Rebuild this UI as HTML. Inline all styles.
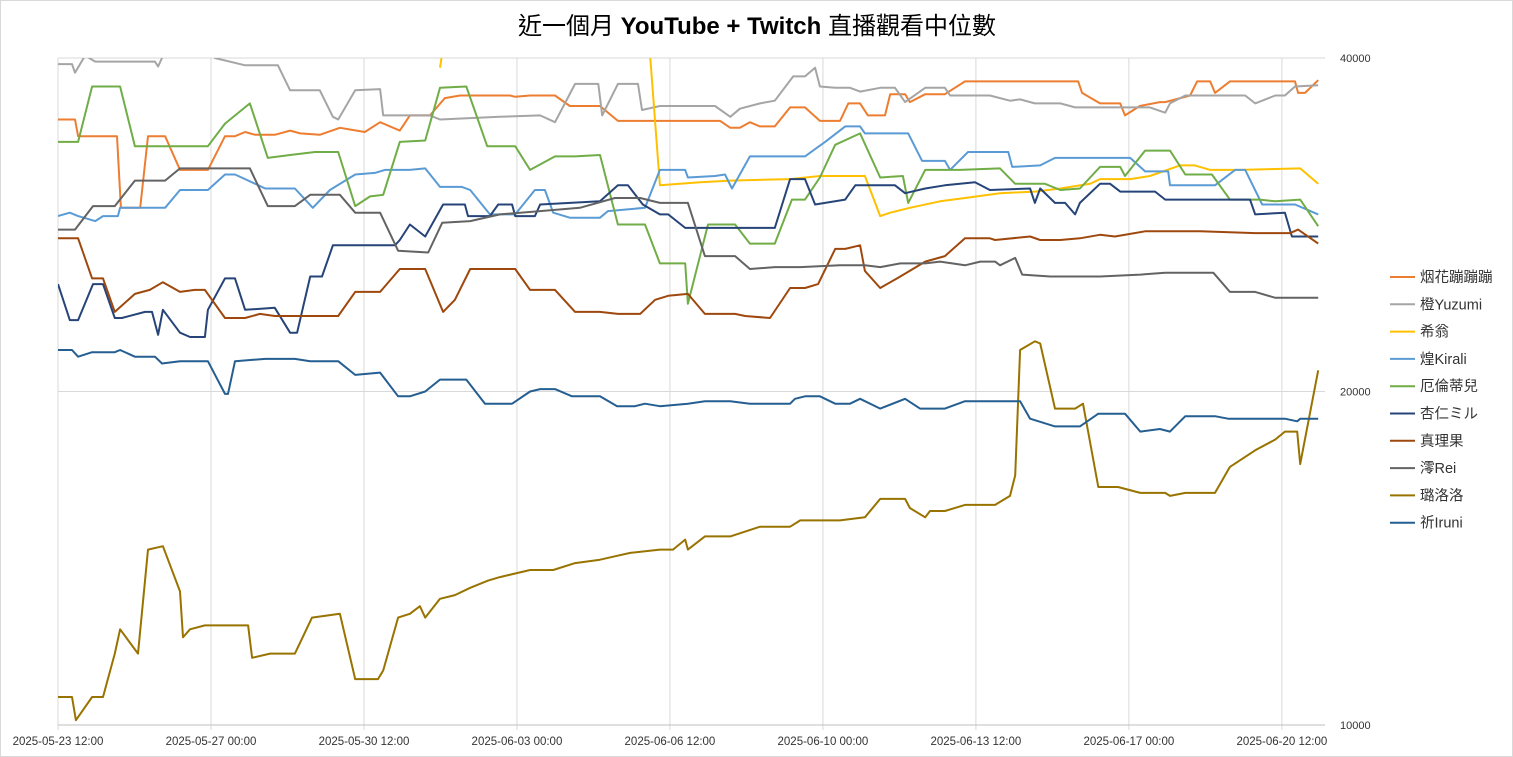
<!DOCTYPE html>
<html><head><meta charset="utf-8">
<style>
html,body{margin:0;padding:0;background:#fff;}
#wrap{position:relative;width:1513px;height:757px;overflow:hidden;font-family:"Liberation Sans","Noto Sans CJK TC",sans-serif;}
svg text{font-family:"Liberation Sans","Noto Sans CJK TC",sans-serif;}
</style></head>
<body>
<div id="wrap">
<svg id="chart" width="1513" height="757">
<rect x="0.5" y="0.5" width="1512" height="756" fill="#fff" stroke="#d9d9d9"/>
<text x="757" y="34" text-anchor="middle" font-size="24" fill="#000">近一個月 <tspan font-weight="bold">YouTube + Twitch</tspan> 直播觀看中位數</text>
<defs><clipPath id="plotclip"><rect x="58" y="58" width="1267" height="667"/></clipPath></defs>
<g id="grid"></g>
<g id="series" clip-path="url(#plotclip)"></g>
<g id="axes"></g>
<g id="legend"></g>
</svg>
</div>
<script>
const xTickLabels = ["2025-05-23 12:00","2025-05-27 00:00","2025-05-30 12:00","2025-06-03 00:00","2025-06-06 12:00","2025-06-10 00:00","2025-06-13 12:00","2025-06-17 00:00","2025-06-20 12:00"];
const xTickDays = [0,3.5,7,10.5,14,17.5,21,24.5,28];
const yTicks = [10000,20000,40000];
const seriesNames = ["烟花蹦蹦蹦","橙Yuzumi","希翁","煌Kirali","厄倫蒂兒","杏仁ミル","真理果","澪Rei","璐洛洛","祈Iruni"];
const seriesColors = ["#ED7D31","#A5A5A5","#FFC000","#5B9BD5","#70AD47","#264478","#9E480E","#636363","#997300","#255E91"];
// [day offset from 2025-05-23 12:00, median viewers]
const dataHanabi = [[0,35200],[0.39,35200],[0.46,34000],[1.35,34000],[1.44,29300],[1.88,29300],[2.06,34000],[2.45,34000],[2.79,31700],[3.43,31700],[3.82,34000],[4.05,34000],[4.28,34300],[4.51,34100],[4.96,34100],[5.31,34400],[5.54,34200],[5.99,34100],[6.45,34600],[7.02,34300],[7.37,35000],[7.82,34400],[8.05,35500],[8.51,35500],[8.85,36800],[9.2,37000],[9.66,37000],[10.34,37000],[10.46,36900],[10.8,37000],[11.37,37000],[11.71,36200],[12.4,36200],[12.81,35100],[15.15,35100],[15.38,34600],[15.6,34600],[15.83,35000],[16.06,34700],[16.4,34700],[16.75,36100],[17.09,36100],[17.43,35100],[17.89,35100],[18.08,36400],[18.35,36400],[18.53,35500],[18.92,35500],[19.04,37100],[19.38,37100],[19.49,36500],[19.84,37100],[20.29,37100],[20.75,38100],[23.34,38100],[23.43,37200],[23.84,36400],[24.3,36400],[24.41,35500],[24.75,36200],[25.21,36500],[25.33,36500],[25.9,37000],[26.06,38100],[26.36,38100],[26.47,37200],[26.81,38100],[28.3,38100],[28.37,37200],[28.53,37200],[28.83,38200]];
const dataYuzumi = [[0,39500],[0.32,39500],[0.39,38800],[0.62,40200],[0.85,39700],[2.22,39700],[2.29,39300],[2.38,40000],[2.56,43000],[3.43,43000],[3.59,40000],[4.28,39400],[5.03,39400],[5.31,37400],[5.99,37400],[6.29,35400],[6.41,35200],[6.8,37400],[7.37,37500],[7.44,35500],[8.51,35500],[8.74,35200],[10.11,35400],[11.03,35500],[11.37,35000],[11.83,37900],[12.36,37900],[12.45,35500],[12.81,37900],[13.27,37900],[13.36,35900],[13.77,36200],[15.03,36200],[15.38,35400],[15.6,36000],[16.06,36400],[16.4,36600],[16.82,38500],[17.09,38500],[17.32,39200],[17.43,37700],[17.78,37600],[18.12,37600],[18.35,37300],[18.81,37600],[19.15,37600],[19.38,36500],[19.84,37600],[20.29,37600],[20.41,37000],[21.32,37000],[21.78,36600],[22.01,36700],[22.35,36400],[22.93,36400],[23.27,36100],[24.98,36100],[25.33,35700],[25.44,36400],[25.79,37000],[27.16,37000],[27.39,36400],[27.85,37000],[28.07,37000],[28.3,37700],[28.83,37800]];
const dataXiweng = [[8.74,39200],[8.97,45000],[13.43,45000],[13.55,40000],[13.77,30700],[14.69,30900],[15.38,31000],[16.75,31100],[17.43,31300],[18.46,31300],[18.81,28800],[19.04,29000],[19.49,29300],[20.18,29700],[20.75,29900],[21.55,30200],[22.35,30300],[22.93,30500],[23.61,30800],[23.84,31100],[24.53,31100],[24.98,31300],[25.67,32000],[26.01,32000],[26.36,31700],[27.04,31700],[28.42,31800],[28.83,30800]];
const dataKirali = [[0,28800],[0.27,29000],[0.46,28800],[0.85,28500],[1.03,28800],[1.37,28800],[1.42,29300],[2.45,29300],[2.79,30400],[3.43,30400],[3.82,31400],[4.05,31400],[4.28,31100],[4.74,30500],[5.42,30500],[5.83,29300],[6.22,30400],[6.8,31400],[7.25,31500],[7.48,31700],[8.05,31700],[8.4,31800],[8.74,30600],[9.24,30600],[9.43,30400],[9.88,28900],[10.46,28900],[10.91,30400],[11.14,30400],[11.33,29000],[11.71,28700],[12.4,28700],[12.58,29100],[13.43,29300],[13.77,31700],[14.35,31700],[14.41,31200],[15.03,31300],[15.26,31400],[15.42,30500],[15.83,32600],[16.29,32600],[17.09,32600],[17.32,33100],[17.55,33600],[18.01,34700],[18.35,34700],[18.46,34200],[19.45,34200],[19.77,32300],[20.29,32300],[20.41,31700],[20.82,32900],[21.74,32900],[21.83,31900],[22.47,32000],[22.81,32500],[24.53,32500],[24.87,31600],[25.4,31600],[25.44,30700],[26.47,30700],[26.93,31700],[27.16,31700],[27.55,29500],[28.3,29500],[28.83,28900]];
const dataEllen = [[0,33600],[0.46,33600],[0.78,37700],[1.42,37700],[1.76,33300],[3.43,33300],[3.82,34900],[4.39,36400],[4.8,32500],[5.31,32700],[5.88,32900],[6.41,32900],[6.8,29400],[7.14,30000],[7.44,30100],[7.82,33600],[8.4,33700],[8.74,37600],[9.34,37700],[9.82,33300],[10.46,33300],[10.8,31700],[11.37,32600],[11.83,32600],[12.4,32700],[12.81,28300],[13.43,28300],[13.77,26100],[14.35,26100],[14.41,24000],[14.87,28300],[15.49,28300],[15.83,27200],[16.4,27200],[16.79,29800],[17.09,29800],[17.43,31200],[17.78,33400],[18.35,34200],[18.81,31200],[19.33,31300],[19.45,29600],[19.84,31700],[20.64,31700],[21.55,31800],[21.9,30800],[22.58,30800],[22.93,30400],[23.38,30500],[23.84,31900],[24.3,31900],[24.41,31300],[24.87,33000],[25.44,33000],[25.79,31400],[26.4,31400],[26.81,29800],[27.5,29800],[27.85,29700],[28.42,29800],[28.83,28200]];
const dataAnnin = [[0,25000],[0.27,23200],[0.46,23200],[0.8,25000],[1.03,25000],[1.3,23300],[1.46,23300],[1.99,23600],[2.15,23600],[2.29,22500],[2.4,23700],[2.79,22600],[3.02,22400],[3.36,22400],[3.43,23700],[3.82,25300],[4.05,25300],[4.28,23700],[4.96,23800],[5.31,22600],[5.47,22600],[5.77,25400],[6.04,25400],[6.29,27100],[7.71,27100],[7.82,27400],[8.05,28300],[8.4,27600],[8.81,29500],[9.31,29500],[9.38,28800],[9.88,28800],[10.07,29500],[10.39,29500],[10.46,28800],[10.91,28800],[11.03,29500],[12.4,29700],[12.81,30700],[13.04,30700],[13.38,29500],[13.77,28900],[13.96,28900],[14.35,28100],[16.4,28100],[16.75,31100],[17.09,31100],[17.32,29500],[18.01,29800],[18.24,30700],[19.15,30700],[19.38,30200],[19.84,30500],[20.29,30700],[20.98,30900],[21.32,30400],[22.24,30500],[22.35,29600],[22.47,30500],[22.81,29600],[23.04,29600],[23.27,28900],[23.38,29600],[23.84,30800],[24.07,30800],[24.3,30300],[25.1,30300],[25.33,29800],[27.27,29800],[27.39,28900],[28.07,29000],[28.23,27600],[28.83,27600]];
const dataMarika = [[0,27500],[0.46,27500],[0.78,25300],[1.03,25300],[1.3,23600],[1.76,24500],[2.1,24700],[2.4,25100],[2.79,24600],[3.13,24700],[3.36,24700],[3.82,23300],[4.28,23300],[4.62,23500],[4.96,23400],[6.41,23400],[6.8,24600],[7.37,24600],[7.82,25800],[8.4,25800],[8.81,23600],[9.08,24200],[9.43,25800],[10.46,25800],[10.8,24700],[11.37,24700],[11.83,23600],[12.4,23600],[12.81,23500],[13.32,23500],[13.66,24200],[13.96,24400],[14.41,24500],[14.8,23500],[15.49,23500],[15.72,23400],[16.29,23300],[16.75,24800],[17.09,24800],[17.39,25000],[17.78,26900],[18.01,26900],[18.35,27100],[18.46,25700],[18.81,24800],[19.27,25400],[19.84,26200],[20.29,26500],[20.75,27500],[21.32,27500],[21.44,27400],[22.24,27600],[22.47,27400],[22.93,27400],[23.38,27500],[23.84,27700],[24.18,27600],[24.87,27900],[26.13,27900],[27.39,27800],[28.19,27800],[28.37,28000],[28.83,27200]];
const dataRei = [[0,28000],[0.39,28000],[0.8,29400],[1.3,29400],[1.76,31000],[2.45,31000],[2.79,31800],[4.39,31800],[4.8,29400],[5.42,29400],[5.77,30100],[6.45,30100],[6.8,29000],[7.37,29000],[7.78,26800],[8.47,26700],[8.79,28400],[9.43,28500],[10.11,28900],[11.03,29100],[11.94,29300],[12.74,29900],[13.32,29900],[13.77,29600],[14.41,29600],[14.8,26500],[15.49,26500],[15.83,25800],[16.4,25900],[16.98,25900],[17.89,26000],[18.46,26000],[18.81,25900],[19.27,26100],[19.84,26100],[20.18,26200],[20.75,26000],[21.1,26200],[21.44,26200],[21.55,26000],[21.9,26400],[22.06,25500],[22.7,25400],[23.84,25400],[24.76,25500],[25.33,25600],[26.43,25600],[26.81,24600],[27.39,24600],[27.85,24300],[28.83,24300]];
const dataLuluolo = [[0,10600],[0.32,10600],[0.41,10100],[0.78,10600],[1.03,10600],[1.3,11600],[1.42,12200],[1.83,11600],[2.06,14400],[2.4,14500],[2.79,13200],[2.86,12000],[3.02,12200],[3.36,12300],[3.94,12300],[4.35,12300],[4.44,11500],[4.85,11600],[5.42,11600],[5.81,12500],[6.45,12600],[6.8,11000],[7.32,11000],[7.44,11200],[7.78,12500],[8.05,12600],[8.28,12800],[8.4,12500],[8.74,13000],[9.08,13100],[9.43,13300],[9.84,13500],[10.11,13600],[10.46,13700],[10.8,13800],[11.33,13800],[11.83,14000],[12.4,14100],[12.74,14200],[13.09,14300],[13.77,14400],[14.07,14400],[14.35,14700],[14.41,14400],[14.8,14800],[15.38,14800],[16.06,15100],[16.75,15100],[16.98,15300],[17.89,15300],[18.46,15400],[18.81,16000],[19.38,16000],[19.49,15700],[19.84,15400],[19.95,15600],[20.29,15600],[20.75,15800],[21.44,15800],[21.78,16100],[21.9,16800],[22.01,21800],[22.35,22200],[22.47,22100],[22.81,19300],[23.27,19300],[23.45,19500],[23.8,16400],[24.25,16400],[24.76,16200],[25.33,16200],[25.44,16100],[25.79,16200],[26.47,16200],[26.81,17100],[27.39,17700],[27.85,18100],[28.07,18400],[28.35,18400],[28.42,17200],[28.83,20900]];
const dataIruni = [[0,21800],[0.32,21800],[0.46,21500],[0.78,21700],[1.3,21700],[1.42,21800],[1.76,21500],[2.22,21500],[2.38,21200],[2.79,21300],[3.43,21300],[3.82,19900],[3.89,19900],[4.05,21300],[4.74,21400],[5.42,21400],[5.77,21300],[6.41,21300],[6.8,20700],[7.37,20800],[7.78,19800],[8.05,19800],[8.4,20000],[8.74,20500],[9.34,20500],[9.77,19500],[10.39,19500],[10.8,20000],[11.03,20100],[11.37,20100],[11.76,19800],[12.4,19800],[12.79,19400],[13.2,19400],[13.43,19500],[13.77,19400],[14.41,19500],[14.8,19600],[15.38,19600],[15.83,19500],[16.75,19500],[16.86,19700],[17.09,19800],[17.43,19800],[17.78,19500],[18.12,19500],[18.35,19700],[18.81,19300],[19.38,19700],[19.72,19300],[20.29,19300],[20.75,19600],[22.01,19600],[22.24,18900],[22.81,18600],[23.38,18600],[23.8,19100],[24.41,19100],[24.76,18400],[25.21,18500],[25.44,18400],[25.79,19000],[26.47,19000],[26.77,18900],[28.07,18900],[28.35,18800],[28.42,18900],[28.83,18900]];
const allSeries = [dataHanabi,dataYuzumi,dataXiweng,dataKirali,dataEllen,dataAnnin,dataMarika,dataRei,dataLuluolo,dataIruni];

const NS="http://www.w3.org/2000/svg";
const PL=58, PR=1325, PT=58, PB=725;
const PX_PER_DAY=43.71;
function xScale(d){return PL + d*PX_PER_DAY;}
function yScale(v){return PB - (Math.log2(v/10000))*(PB-PT)/2;}
function mk(tag,attrs,parent){const e=document.createElementNS(NS,tag);for(const k in attrs)e.setAttribute(k,attrs[k]);parent.appendChild(e);return e;}

const grid=document.getElementById('grid');
const axes=document.getElementById('axes');
yTicks.forEach(v=>{
  const y=yScale(v);
  const gl=mk('line',{x1:PL,x2:PR,y1:y,y2:y,stroke:'#d9d9d9','stroke-width':1},grid);
  
  
  const t=mk('text',{x:1340,y:y+4,'font-size':11,fill:'#333'},axes);
  t.textContent=v;
  
  
});
xTickDays.forEach((d,i)=>{
  const x=xScale(d);
  const gl=mk('line',{x1:x,x2:x,y1:PT,y2:PB+5,stroke:'#d9d9d9','stroke-width':1},grid);
  
  
  const t=mk('text',{x:x,y:745,'font-size':11.5,fill:'#333','text-anchor':'middle'},axes);
  t.textContent=xTickLabels[i];
  
  
});
const ax=mk('line',{x1:PL,x2:PR,y1:PB,y2:PB,stroke:'#bfbfbf','stroke-width':1},axes);



const sg=document.getElementById('series');
allSeries.forEach((data,i)=>{
  const pts=data.map(p=>xScale(p[0]).toFixed(1)+','+yScale(p[1]).toFixed(1)).join(' ');
  const pl=mk('polyline',{points:pts,fill:'none',stroke:seriesColors[i],'stroke-width':2,'stroke-linejoin':'round'},sg);
  
  
});

const lg=document.getElementById('legend');
seriesNames.forEach((n,i)=>{
  const y=277+i*27.3;
  const g=mk('g',{},lg);
  
  
  mk('line',{x1:1390,x2:1415,y1:y,y2:y,stroke:seriesColors[i],'stroke-width':2},g);
  const t=mk('text',{x:1420,y:y+5,'font-size':14.5,fill:'#333'},g);
  t.textContent=n;
});
</script>
</body></html>
